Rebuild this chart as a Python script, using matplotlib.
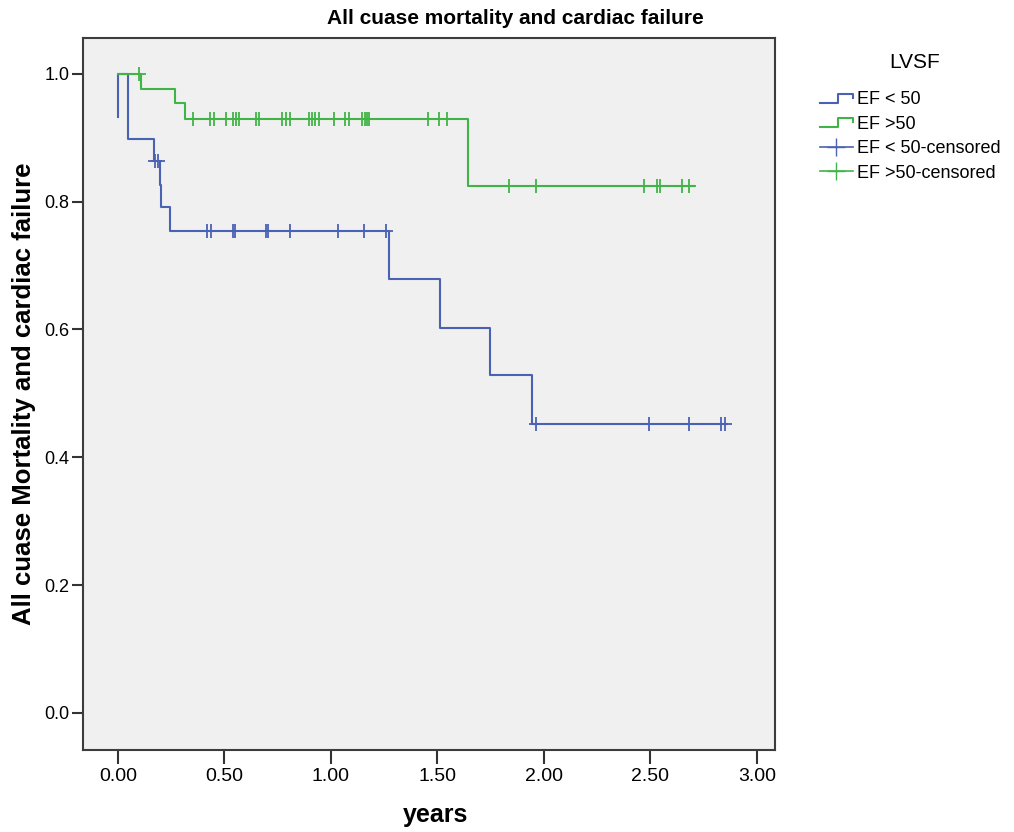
import numpy as np
import matplotlib
matplotlib.use('Agg')
import matplotlib.pyplot as plt
from matplotlib.lines import Line2D
from matplotlib.legend_handler import HandlerBase

# Kaplan-Meier steps (years, survival after the event)
blue_times = [0.0, 0.0, 0.049, 0.168, 0.195, 0.204, 0.242, 1.272, 1.513, 1.746, 1.945]
blue_surv = [0.933, 1.0, 0.898, 0.863, 0.826, 0.792, 0.754, 0.679, 0.603, 0.528, 0.452]
blue_end = 2.855
blue_censored = [0.175, 0.19, 0.42, 0.435, 0.54, 0.55, 0.695, 0.705, 0.81, 1.035,
                 1.153, 1.259, 1.963, 2.495, 2.683, 2.832, 2.85]

green_times = [0.0, 0.106, 0.27, 0.314, 1.642]
green_surv = [1.0, 0.976, 0.954, 0.929, 0.825]
green_end = 2.707
green_censored = [0.098, 0.351, 0.43, 0.45, 0.508, 0.542, 0.555, 0.567, 0.646, 0.661,
                  0.771, 0.79, 0.808, 0.896, 0.912, 0.927, 0.946, 1.012, 1.068, 1.087,
                  1.146, 1.16, 1.168, 1.177, 1.455, 1.509, 1.544, 1.838, 1.963, 2.472,
                  2.53, 2.545, 2.649, 2.68]

x_ticks = [0.0, 0.5, 1.0, 1.5, 2.0, 2.5, 3.0]
y_ticks = [0.0, 0.2, 0.4, 0.6, 0.8, 1.0]
labels = ['EF < 50', 'EF >50', 'EF < 50-censored', 'EF >50-censored']

BLUE = '#4a62b4'
GREEN = '#41b447'
SANS = ['Liberation Sans', 'DejaVu Sans']


def surv_at(times, surv, t):
    idx = np.searchsorted(times, t, side='right') - 1
    return np.array(surv)[idx]


class StepHandler(HandlerBase):
    def create_artists(self, legend, orig_handle, xdescent, ydescent,
                       width, height, fontsize, trans):
        x = np.array([0, 0.55, 0.55, 1.0, 1.0]) * width - xdescent
        y = np.array([0.1, 0.1, 0.8, 0.8, 0.5]) * height - ydescent
        line = Line2D(x, y, color=orig_handle.get_color(), lw=1.5, transform=trans)
        return [line]


fig = plt.figure(figsize=(10.14, 8.32), dpi=100)
ax = fig.add_axes([0.0819, 0.0986, 0.6824, 0.8557])
ax.set_facecolor('#f0f0f0')

for times, surv, end, cens, color in [
        (blue_times, blue_surv, blue_end, blue_censored, BLUE),
        (green_times, green_surv, green_end, green_censored, GREEN)]:
    xs = list(times) + [end]
    ys = list(surv) + [surv[-1]]
    ax.step(xs, ys, where='post', color=color, lw=1.5)
    ax.plot(cens, surv_at(times, surv, cens), linestyle='none', marker='+',
            markersize=10, markeredgewidth=1.3, color=color)

ax.set_xlim(-0.164, 3.085)
ax.set_ylim(-0.058, 1.056)
ax.set_xticks(x_ticks)
ax.set_xticklabels([f'{v:.2f}' for v in x_ticks], family=SANS, fontsize=14)
ax.set_yticks(y_ticks)
ax.set_yticklabels([f'{v:.1f}' for v in y_ticks], family=SANS, fontsize=13)
ax.tick_params(axis='x', direction='out', length=10, width=1.5, color='#333333', pad=3)
ax.tick_params(axis='y', direction='out', length=8, width=1.5, color='#333333', pad=2)
for side in ['left', 'bottom', 'top', 'right']:
    ax.spines[side].set_color('#3c3c3c')
    ax.spines[side].set_linewidth(1.5)

ax.set_xlabel('years', family=SANS, fontsize=18, fontweight='bold')
ax.xaxis.set_label_coords(0.509, -0.075)
ax.set_ylabel('All cuase Mortality and cardiac failure', family=SANS, fontsize=18.5,
              fontweight='bold', labelpad=6)
fig.text(515 / 1014, 1 - 19 / 832, 'All cuase mortality and cardiac failure',
         ha='center', va='center', family=SANS, fontsize=15, fontweight='bold')

fig.text(915 / 1014, 1 - 62 / 832, 'LVSF', ha='center', va='center',
         family=SANS, fontsize=15)
handles = [Line2D([], [], color=BLUE), Line2D([], [], color=GREEN),
           Line2D([], [], color=BLUE, marker='+', markersize=13, lw=1.2),
           Line2D([], [], color=GREEN, marker='+', markersize=13, lw=1.2)]
leg = fig.legend(handles, labels, loc='upper left',
                 bbox_to_anchor=(820 / 1014, 1 - 91 / 832), frameon=False,
                 borderpad=0, borderaxespad=0,
                 handler_map={handles[0]: StepHandler(), handles[1]: StepHandler()},
                 prop={'family': SANS, 'size': 13}, handlelength=1.8,
                 handletextpad=0.25, labelspacing=0.42)

fig.savefig('out.png', dpi=100, facecolor='white')
